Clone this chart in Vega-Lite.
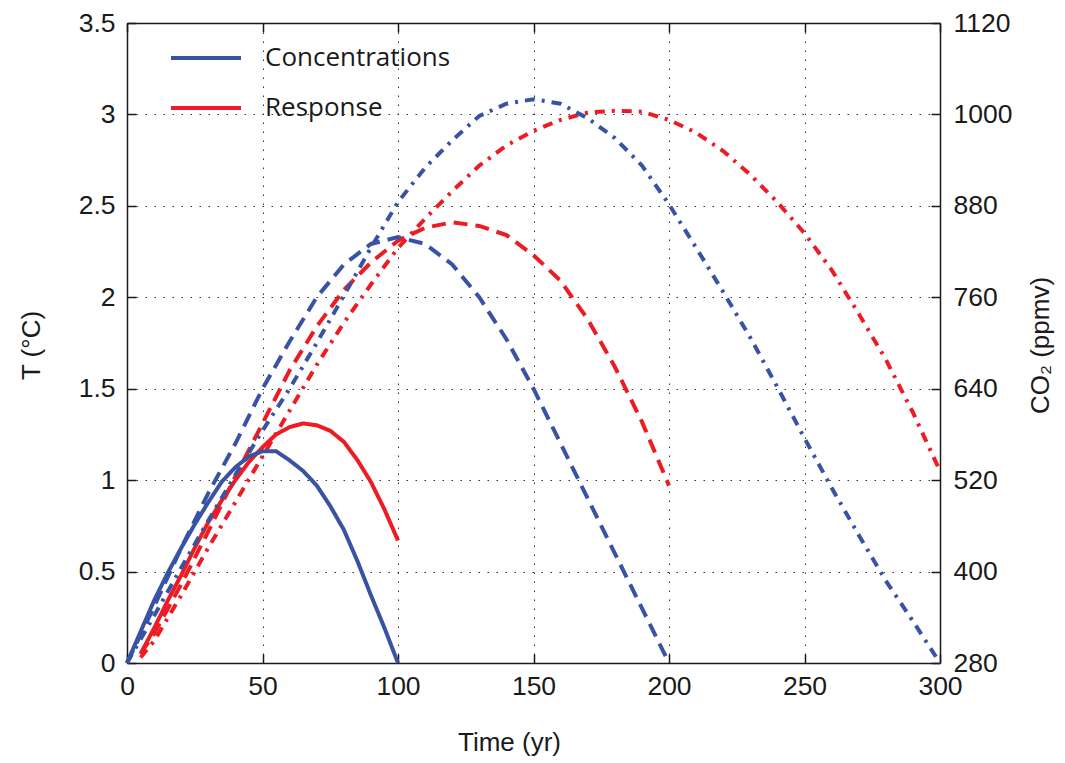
{
  "$schema": "https://vega.github.io/schema/vega-lite/v6.json",
  "width": 813,
  "height": 640,
  "autosize": "none",
  "padding": {"left": 127, "top": 23, "right": 125, "bottom": 100},
  "background": "white",
  "config": {
    "font": "Liberation Sans",
    "view": {"stroke": null},
    "axis": {
      "labelFont": "Liberation Sans",
      "labelFontSize": 26.5,
      "labelColor": "#1a1a1a",
      "titleFont": "Liberation Sans",
      "titleFontSize": 26,
      "titleFontWeight": "normal",
      "titleColor": "#1a1a1a",
      "domainColor": "#1a1a1a",
      "domainWidth": 1.5,
      "tickColor": "#1a1a1a",
      "tickWidth": 1.5,
      "tickSize": -9,
      "gridColor": "#333333",
      "gridDash": [1.5, 7.5],
      "gridWidth": 1,
      "labelFlush": false,
      "labelOverlap": false
    },
    "axisLeft": {"labelPadding": 21},
    "axisRight": {"labelPadding": 22},
    "axisBottom": {"labelPadding": 19},
    "legend": {
      "labelFont": "Open Sans",
      "labelFontSize": 26,
      "labelColor": "#1a1a1a",
      "labelLimit": 0
    }
  },
  "data": {
    "values": [
      {"series": "Concentrations", "scenario": "100", "t": 0, "co2": 280},
      {"series": "Concentrations", "scenario": "100", "t": 5, "co2": 321},
      {"series": "Concentrations", "scenario": "100", "t": 10, "co2": 362},
      {"series": "Concentrations", "scenario": "100", "t": 15, "co2": 398},
      {"series": "Concentrations", "scenario": "100", "t": 20, "co2": 431},
      {"series": "Concentrations", "scenario": "100", "t": 25, "co2": 462},
      {"series": "Concentrations", "scenario": "100", "t": 30, "co2": 491},
      {"series": "Concentrations", "scenario": "100", "t": 35, "co2": 518},
      {"series": "Concentrations", "scenario": "100", "t": 40, "co2": 537},
      {"series": "Concentrations", "scenario": "100", "t": 45, "co2": 551},
      {"series": "Concentrations", "scenario": "100", "t": 50, "co2": 558},
      {"series": "Concentrations", "scenario": "100", "t": 55, "co2": 558},
      {"series": "Concentrations", "scenario": "100", "t": 60, "co2": 546},
      {"series": "Concentrations", "scenario": "100", "t": 65, "co2": 532},
      {"series": "Concentrations", "scenario": "100", "t": 70, "co2": 513},
      {"series": "Concentrations", "scenario": "100", "t": 75, "co2": 486},
      {"series": "Concentrations", "scenario": "100", "t": 80, "co2": 455},
      {"series": "Concentrations", "scenario": "100", "t": 85, "co2": 414},
      {"series": "Concentrations", "scenario": "100", "t": 90, "co2": 369},
      {"series": "Concentrations", "scenario": "100", "t": 95, "co2": 326},
      {"series": "Concentrations", "scenario": "100", "t": 100, "co2": 280},

      {"series": "Concentrations", "scenario": "200", "t": 0, "co2": 280},
      {"series": "Concentrations", "scenario": "200", "t": 10, "co2": 354},
      {"series": "Concentrations", "scenario": "200", "t": 20, "co2": 431},
      {"series": "Concentrations", "scenario": "200", "t": 30, "co2": 503},
      {"series": "Concentrations", "scenario": "200", "t": 40, "co2": 568},
      {"series": "Concentrations", "scenario": "200", "t": 50, "co2": 640},
      {"series": "Concentrations", "scenario": "200", "t": 60, "co2": 702},
      {"series": "Concentrations", "scenario": "200", "t": 70, "co2": 760},
      {"series": "Concentrations", "scenario": "200", "t": 80, "co2": 803},
      {"series": "Concentrations", "scenario": "200", "t": 90, "co2": 830},
      {"series": "Concentrations", "scenario": "200", "t": 100, "co2": 839},
      {"series": "Concentrations", "scenario": "200", "t": 110, "co2": 830},
      {"series": "Concentrations", "scenario": "200", "t": 120, "co2": 803},
      {"series": "Concentrations", "scenario": "200", "t": 130, "co2": 760},
      {"series": "Concentrations", "scenario": "200", "t": 140, "co2": 705},
      {"series": "Concentrations", "scenario": "200", "t": 150, "co2": 640},
      {"series": "Concentrations", "scenario": "200", "t": 160, "co2": 568},
      {"series": "Concentrations", "scenario": "200", "t": 170, "co2": 496},
      {"series": "Concentrations", "scenario": "200", "t": 180, "co2": 424},
      {"series": "Concentrations", "scenario": "200", "t": 190, "co2": 352},
      {"series": "Concentrations", "scenario": "200", "t": 200, "co2": 280},

      {"series": "Concentrations", "scenario": "300", "t": 0, "co2": 280},
      {"series": "Concentrations", "scenario": "300", "t": 10, "co2": 342},
      {"series": "Concentrations", "scenario": "300", "t": 20, "co2": 405},
      {"series": "Concentrations", "scenario": "300", "t": 30, "co2": 467},
      {"series": "Concentrations", "scenario": "300", "t": 40, "co2": 527},
      {"series": "Concentrations", "scenario": "300", "t": 50, "co2": 585},
      {"series": "Concentrations", "scenario": "300", "t": 60, "co2": 640},
      {"series": "Concentrations", "scenario": "300", "t": 70, "co2": 700},
      {"series": "Concentrations", "scenario": "300", "t": 80, "co2": 762},
      {"series": "Concentrations", "scenario": "300", "t": 90, "co2": 825},
      {"series": "Concentrations", "scenario": "300", "t": 100, "co2": 885},
      {"series": "Concentrations", "scenario": "300", "t": 110, "co2": 930},
      {"series": "Concentrations", "scenario": "300", "t": 120, "co2": 966},
      {"series": "Concentrations", "scenario": "300", "t": 130, "co2": 998},
      {"series": "Concentrations", "scenario": "300", "t": 140, "co2": 1014},
      {"series": "Concentrations", "scenario": "300", "t": 150, "co2": 1020},
      {"series": "Concentrations", "scenario": "300", "t": 160, "co2": 1014},
      {"series": "Concentrations", "scenario": "300", "t": 170, "co2": 995},
      {"series": "Concentrations", "scenario": "300", "t": 180, "co2": 969},
      {"series": "Concentrations", "scenario": "300", "t": 190, "co2": 933},
      {"series": "Concentrations", "scenario": "300", "t": 200, "co2": 882},
      {"series": "Concentrations", "scenario": "300", "t": 210, "co2": 825},
      {"series": "Concentrations", "scenario": "300", "t": 220, "co2": 767},
      {"series": "Concentrations", "scenario": "300", "t": 230, "co2": 707},
      {"series": "Concentrations", "scenario": "300", "t": 240, "co2": 642},
      {"series": "Concentrations", "scenario": "300", "t": 250, "co2": 575},
      {"series": "Concentrations", "scenario": "300", "t": 260, "co2": 510},
      {"series": "Concentrations", "scenario": "300", "t": 270, "co2": 448},
      {"series": "Concentrations", "scenario": "300", "t": 280, "co2": 388},
      {"series": "Concentrations", "scenario": "300", "t": 290, "co2": 335},
      {"series": "Concentrations", "scenario": "300", "t": 300, "co2": 280},

      {"series": "Response", "scenario": "100", "t": 5, "temp": 0.05},
      {"series": "Response", "scenario": "100", "t": 10, "temp": 0.19},
      {"series": "Response", "scenario": "100", "t": 15, "temp": 0.34},
      {"series": "Response", "scenario": "100", "t": 20, "temp": 0.48},
      {"series": "Response", "scenario": "100", "t": 25, "temp": 0.63},
      {"series": "Response", "scenario": "100", "t": 30, "temp": 0.77},
      {"series": "Response", "scenario": "100", "t": 35, "temp": 0.89},
      {"series": "Response", "scenario": "100", "t": 40, "temp": 1.0},
      {"series": "Response", "scenario": "100", "t": 45, "temp": 1.1},
      {"series": "Response", "scenario": "100", "t": 50, "temp": 1.18},
      {"series": "Response", "scenario": "100", "t": 55, "temp": 1.25},
      {"series": "Response", "scenario": "100", "t": 60, "temp": 1.29},
      {"series": "Response", "scenario": "100", "t": 65, "temp": 1.31},
      {"series": "Response", "scenario": "100", "t": 70, "temp": 1.3},
      {"series": "Response", "scenario": "100", "t": 75, "temp": 1.27},
      {"series": "Response", "scenario": "100", "t": 80, "temp": 1.21},
      {"series": "Response", "scenario": "100", "t": 85, "temp": 1.11},
      {"series": "Response", "scenario": "100", "t": 90, "temp": 0.99},
      {"series": "Response", "scenario": "100", "t": 95, "temp": 0.84},
      {"series": "Response", "scenario": "100", "t": 100, "temp": 0.67},

      {"series": "Response", "scenario": "200", "t": 5, "temp": 0.05},
      {"series": "Response", "scenario": "200", "t": 10, "temp": 0.16},
      {"series": "Response", "scenario": "200", "t": 20, "temp": 0.43},
      {"series": "Response", "scenario": "200", "t": 30, "temp": 0.72},
      {"series": "Response", "scenario": "200", "t": 40, "temp": 1.02},
      {"series": "Response", "scenario": "200", "t": 50, "temp": 1.31},
      {"series": "Response", "scenario": "200", "t": 60, "temp": 1.6},
      {"series": "Response", "scenario": "200", "t": 70, "temp": 1.84},
      {"series": "Response", "scenario": "200", "t": 80, "temp": 2.04},
      {"series": "Response", "scenario": "200", "t": 90, "temp": 2.19},
      {"series": "Response", "scenario": "200", "t": 100, "temp": 2.31},
      {"series": "Response", "scenario": "200", "t": 110, "temp": 2.38},
      {"series": "Response", "scenario": "200", "t": 120, "temp": 2.41},
      {"series": "Response", "scenario": "200", "t": 130, "temp": 2.39},
      {"series": "Response", "scenario": "200", "t": 140, "temp": 2.34},
      {"series": "Response", "scenario": "200", "t": 150, "temp": 2.23},
      {"series": "Response", "scenario": "200", "t": 160, "temp": 2.09},
      {"series": "Response", "scenario": "200", "t": 170, "temp": 1.88},
      {"series": "Response", "scenario": "200", "t": 180, "temp": 1.62},
      {"series": "Response", "scenario": "200", "t": 190, "temp": 1.32},
      {"series": "Response", "scenario": "200", "t": 200, "temp": 0.97},

      {"series": "Response", "scenario": "300", "t": 5, "temp": 0.03},
      {"series": "Response", "scenario": "300", "t": 10, "temp": 0.12},
      {"series": "Response", "scenario": "300", "t": 20, "temp": 0.37},
      {"series": "Response", "scenario": "300", "t": 30, "temp": 0.63},
      {"series": "Response", "scenario": "300", "t": 40, "temp": 0.88},
      {"series": "Response", "scenario": "300", "t": 50, "temp": 1.13},
      {"series": "Response", "scenario": "300", "t": 60, "temp": 1.38},
      {"series": "Response", "scenario": "300", "t": 70, "temp": 1.63},
      {"series": "Response", "scenario": "300", "t": 80, "temp": 1.86},
      {"series": "Response", "scenario": "300", "t": 90, "temp": 2.07},
      {"series": "Response", "scenario": "300", "t": 100, "temp": 2.27},
      {"series": "Response", "scenario": "300", "t": 110, "temp": 2.43},
      {"series": "Response", "scenario": "300", "t": 120, "temp": 2.58},
      {"series": "Response", "scenario": "300", "t": 130, "temp": 2.72},
      {"series": "Response", "scenario": "300", "t": 140, "temp": 2.83},
      {"series": "Response", "scenario": "300", "t": 150, "temp": 2.91},
      {"series": "Response", "scenario": "300", "t": 160, "temp": 2.97},
      {"series": "Response", "scenario": "300", "t": 170, "temp": 3.01},
      {"series": "Response", "scenario": "300", "t": 180, "temp": 3.02},
      {"series": "Response", "scenario": "300", "t": 190, "temp": 3.015},
      {"series": "Response", "scenario": "300", "t": 200, "temp": 2.97},
      {"series": "Response", "scenario": "300", "t": 210, "temp": 2.9},
      {"series": "Response", "scenario": "300", "t": 220, "temp": 2.8},
      {"series": "Response", "scenario": "300", "t": 230, "temp": 2.67},
      {"series": "Response", "scenario": "300", "t": 240, "temp": 2.52},
      {"series": "Response", "scenario": "300", "t": 250, "temp": 2.35},
      {"series": "Response", "scenario": "300", "t": 260, "temp": 2.15},
      {"series": "Response", "scenario": "300", "t": 270, "temp": 1.91},
      {"series": "Response", "scenario": "300", "t": 280, "temp": 1.66},
      {"series": "Response", "scenario": "300", "t": 290, "temp": 1.37},
      {"series": "Response", "scenario": "300", "t": 300, "temp": 1.05}
    ]
  },
  "layer": [
    {
      "transform": [{"filter": "datum.series === 'Response'"}],
      "mark": {"type": "line", "strokeWidth": 4},
      "encoding": {
        "x": {
          "field": "t", "type": "quantitative",
          "scale": {"domain": [0, 300], "nice": false, "zero": false},
          "axis": {
            "orient": "bottom", "values": [0, 50, 100, 150, 200, 250, 300],
            "title": "Time (yr)", "grid": true,
            "titleX": 382, "titleY": 87, "titleBaseline": "alphabetic", "titleAlign": "center"
          }
        },
        "y": {
          "field": "temp", "type": "quantitative",
          "scale": {"domain": [0, 3.5], "nice": false, "zero": false},
          "axis": {
            "orient": "left", "values": [0, 0.5, 1, 1.5, 2, 2.5, 3, 3.5], "format": "~g",
            "title": "T (°C)", "grid": true,
            "titleAngle": 270, "titleX": -88, "titleY": 322, "titleBaseline": "alphabetic", "titleAlign": "center"
          }
        },
        "color": {
          "field": "series", "type": "nominal",
          "scale": {"domain": ["Concentrations", "Response"], "range": ["#3953a4", "#ed1c24"]},
          "legend": {
            "title": null, "orient": "none", "legendX": 42, "legendY": -2,
            "symbolType": "stroke", "symbolSize": 4900, "symbolStrokeWidth": 4,
            "labelOffset": 22, "rowPadding": -4, "padding": 0, "labelLimit": 0
          }
        },
        "strokeDash": {
          "field": "scenario", "type": "nominal",
          "scale": {"domain": ["100", "200", "300"], "range": [[1, 0], [14, 8], [10, 7, 3, 7]]},
          "legend": null
        }
      }
    },
    {
      "transform": [{"filter": "datum.series === 'Concentrations'"}],
      "mark": {"type": "line", "strokeWidth": 4},
      "encoding": {
        "x": {
          "field": "t", "type": "quantitative",
          "scale": {"domain": [0, 300], "nice": false, "zero": false},
          "axis": {
            "orient": "top", "values": [0, 50, 100, 150, 200, 250, 300],
            "labels": false, "title": null, "grid": false
          }
        },
        "y": {
          "field": "co2", "type": "quantitative",
          "scale": {"domain": [280, 1120], "nice": false, "zero": false},
          "axis": {
            "orient": "right", "values": [280, 400, 520, 640, 760, 880, 1000, 1120], "format": "d",
            "title": "CO₂ (ppmv)", "grid": false,
            "titleAngle": 270, "titleX": 108, "titleY": 322, "titleBaseline": "alphabetic", "titleAlign": "center"
          }
        },
        "color": {
          "field": "series", "type": "nominal",
          "scale": {"domain": ["Concentrations", "Response"], "range": ["#3953a4", "#ed1c24"]}
        },
        "strokeDash": {
          "field": "scenario", "type": "nominal",
          "scale": {"domain": ["100", "200", "300"], "range": [[1, 0], [14, 8], [10, 7, 3, 7]]},
          "legend": null
        }
      }
    }
  ],
  "resolve": {"scale": {"y": "independent"}, "axis": {"x": "independent", "y": "independent"}}
}
